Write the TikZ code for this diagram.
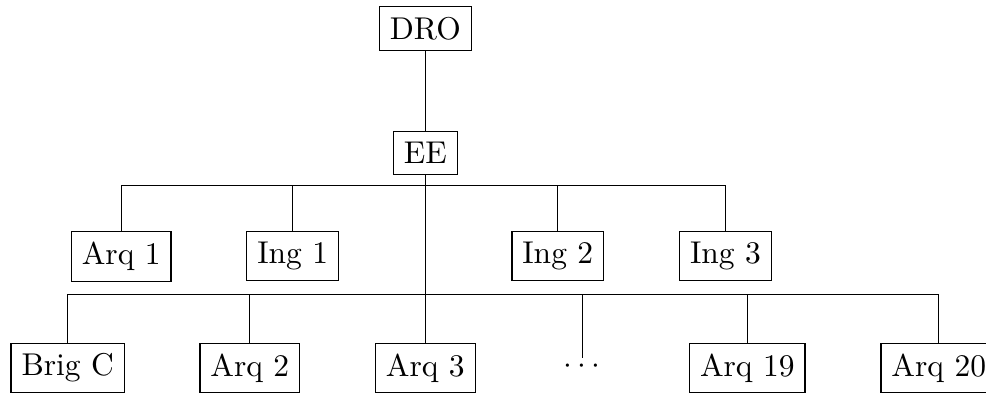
\documentclass[tikz,border=0pt]{standalone}
\begin{document}
\begin{tikzpicture}[x=0.3175pt,y=-0.3175pt,
  box/.style={draw,inner sep=3.333pt},
  plain/.style={inner xsep=3.333pt,inner ysep=0.2pt},
  link/.style={draw,line width=0.4pt}]
\useasboundingbox (0,0) rectangle (986,392);
\clip (0,0) rectangle (986,392);
\node[box] (dro) at (425.3,28.5) {DRO};
\node[box] (ee) at (425.3,153) {EE};
\node[box] (arq1) at (121.2,256.3) {Arq 1};
\node[box] (ing1) at (292.7,256.3) {Ing 1};
\node[box] (ing2) at (557.8,256.3) {Ing 2};
\node[box] (ing3) at (725.5,256.3) {Ing 3};
\node[box] (brig) at (67.7,368) {Brig C};
\node[box] (arq2) at (249.8,368) {Arq 2};
\node[box] (arq3) at (425.3,368) {Arq 3};
\node[plain] (dots) at (582.3,366) {$\cdots$};
\node[box] (arq19) at (747.3,368) {Arq 19};
\node[box] (arq20) at (938.7,368) {Arq 20};
\coordinate (b1) at (425.3,185.6);
\coordinate (b2) at (425.3,294.3);
\draw[link] (dro.south) -- (ee.north);
\draw[link] (ee.south) -- (arq3.north);
\draw[link] (arq1.north) |- (b1) -| (ing3.north);
\draw[link] (ing1.north) -- (ing1.north |- b1);
\draw[link] (ing2.north) -- (ing2.north |- b1);
\draw[link] (brig.north) |- (b2) -| (arq20.north);
\draw[link] (arq2.north) -- (arq2.north |- b2);
\draw[link] (dots.north) -- (dots.north |- b2);
\draw[link] (arq19.north) -- (arq19.north |- b2);
\end{tikzpicture}
\end{document}
